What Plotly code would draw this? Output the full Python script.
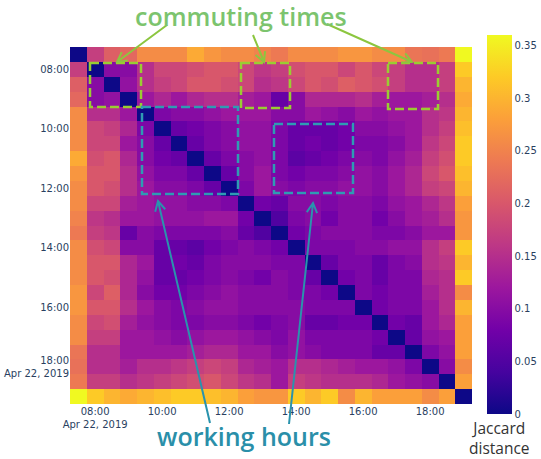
import plotly.graph_objects as go
import math

times = ["2019-04-22 07:30", "2019-04-22 08:00", "2019-04-22 08:30", "2019-04-22 09:00",
         "2019-04-22 09:30", "2019-04-22 10:00", "2019-04-22 10:30", "2019-04-22 11:00",
         "2019-04-22 11:30", "2019-04-22 12:00", "2019-04-22 12:30", "2019-04-22 13:00",
         "2019-04-22 13:30", "2019-04-22 14:00", "2019-04-22 14:30", "2019-04-22 15:00",
         "2019-04-22 15:30", "2019-04-22 16:00", "2019-04-22 16:30", "2019-04-22 17:00",
         "2019-04-22 17:30", "2019-04-22 18:00", "2019-04-22 18:30", "2019-04-22 19:00"]

# upper triangle of the (symmetric) Jaccard distance matrix: row i -> columns i+1..23
upper = [
    [0.17, 0.21, 0.22, 0.26, 0.26, 0.26, 0.29, 0.27, 0.26, 0.26, 0.25, 0.24, 0.26, 0.26, 0.26, 0.27, 0.27, 0.26, 0.26, 0.235, 0.23, 0.24, 0.36],
    [0.10, 0.10, 0.15, 0.18, 0.18, 0.19, 0.20, 0.20, 0.18, 0.16, 0.17, 0.19, 0.20, 0.20, 0.18, 0.20, 0.18, 0.17, 0.15, 0.15, 0.17, 0.32],
    [0.11, 0.15, 0.17, 0.18, 0.20, 0.20, 0.19, 0.18, 0.15, 0.16, 0.18, 0.20, 0.19, 0.21, 0.20, 0.19, 0.17, 0.15, 0.15, 0.17, 0.30],
    [0.12, 0.14, 0.12, 0.14, 0.15, 0.15, 0.13, 0.12, 0.07, 0.10, 0.14, 0.14, 0.14, 0.15, 0.13, 0.12, 0.12, 0.13, 0.15, 0.29],
    [0.09, 0.10, 0.10, 0.11, 0.12, 0.12, 0.12, 0.10, 0.10, 0.12, 0.11, 0.10, 0.12, 0.11, 0.12, 0.12, 0.15, 0.16, 0.30],
    [0.07, 0.08, 0.09, 0.10, 0.11, 0.11, 0.09, 0.07, 0.07, 0.07, 0.08, 0.10, 0.10, 0.11, 0.12, 0.15, 0.17, 0.31],
    [0.07, 0.09, 0.10, 0.11, 0.11, 0.09, 0.07, 0.08, 0.07, 0.08, 0.09, 0.09, 0.10, 0.12, 0.16, 0.18, 0.32],
    [0.07, 0.09, 0.10, 0.11, 0.09, 0.06, 0.07, 0.08, 0.09, 0.10, 0.09, 0.11, 0.13, 0.17, 0.19, 0.32],
    [0.07, 0.10, 0.12, 0.09, 0.08, 0.09, 0.09, 0.10, 0.11, 0.10, 0.12, 0.14, 0.18, 0.20, 0.31],
    [0.09, 0.12, 0.10, 0.09, 0.10, 0.10, 0.11, 0.11, 0.10, 0.12, 0.14, 0.17, 0.18, 0.30],
    [0.08, 0.07, 0.10, 0.10, 0.09, 0.10, 0.10, 0.09, 0.11, 0.12, 0.14, 0.16, 0.28],
    [0.05, 0.09, 0.10, 0.08, 0.10, 0.10, 0.08, 0.10, 0.12, 0.13, 0.15, 0.27],
    [0.08, 0.09, 0.10, 0.10, 0.10, 0.09, 0.09, 0.10, 0.12, 0.12, 0.27],
    [0.09, 0.09, 0.09, 0.10, 0.10, 0.11, 0.11, 0.15, 0.17, 0.32],
    [0.07, 0.09, 0.09, 0.07, 0.09, 0.10, 0.15, 0.16, 0.30],
    [0.08, 0.09, 0.07, 0.09, 0.09, 0.14, 0.15, 0.32],
    [0.09, 0.08, 0.09, 0.09, 0.13, 0.15, 0.26],
    [0.08, 0.09, 0.09, 0.12, 0.15, 0.30],
    [0.08, 0.07, 0.12, 0.14, 0.28],
    [0.07, 0.11, 0.12, 0.28],
    [0.09, 0.11, 0.28],
    [0.10, 0.26],
    [0.28],
]

cbar_ticks = [0, 0.05, 0.1, 0.15, 0.2, 0.25, 0.3, 0.35]

n = len(times)
z = [[0.0] * n for _ in range(n)]
for i, row in enumerate(upper):
    for k, v in enumerate(row):
        j = i + 1 + k
        z[i][j] = v
        z[j][i] = v

W, H = 541, 459
SL, SR, ST, SB = 70, 472, 47, 404  # plot area in pixels
L, T, R, B = SL, ST, W - SR, H - SB


def px(xp):
    return (xp - SL) / (SR - SL)


def py(yp):
    return (SB - yp) / (SB - ST)


fig = go.Figure(go.Heatmap(
    x=times, y=times, z=z, colorscale="Plasma", zmin=0, zmax=0.36,
    colorbar=dict(
        thickness=25, lenmode="pixels", len=379, y=py(35), yanchor="top",
        x=px(487), xanchor="left", xpad=0, ypad=0, outlinewidth=0,
        tickvals=cbar_ticks, tickfont=dict(size=10, family="DejaVu Sans", color="#2a3f5f"),
    ),
))

shapes = []
green_box = "#9acd32"
teal_box = "#2f9bb3"
for (x0, y0, x1, y1) in [(90, 63, 141, 107), (241, 63, 290, 108), (388, 63, 438, 109)]:
    shapes.append(dict(type="rect", xref="paper", yref="paper", x0=px(x0), x1=px(x1), y0=py(y0), y1=py(y1),
                       line=dict(color=green_box, width=2.5, dash="9px,4px")))
for (x0, y0, x1, y1) in [(142, 107, 238, 194), (274, 124, 353, 193)]:
    shapes.append(dict(type="rect", xref="paper", yref="paper", x0=px(x0), x1=px(x1), y0=py(y0), y1=py(y1),
                       line=dict(color=teal_box, width=2.5, dash="9px,4px")))


def arrow(tail, head, color):
    tx, ty = tail
    hx, hy = head
    ang = math.atan2(ty - hy, tx - hx)
    arm = 11
    spread = math.radians(28)
    p1 = (hx + arm * math.cos(ang + spread), hy + arm * math.sin(ang + spread))
    p2 = (hx + arm * math.cos(ang - spread), hy + arm * math.sin(ang - spread))
    path = (f"M {px(tx)},{py(ty)} L {px(hx)},{py(hy)} "
            f"M {px(p1[0])},{py(p1[1])} L {px(hx)},{py(hy)} L {px(p2[0])},{py(p2[1])}")
    return dict(type="path", xref="paper", yref="paper", path=path, line=dict(color=color, width=2))


green_arrow = "#8cc63f"
teal_arrow = "#2a93ad"
for tail, head in [((167, 25), (117, 62)), ((253, 35), (264, 62)), ((327, 24), (412, 62))]:
    shapes.append(arrow(tail, head, green_arrow))
for tail, head in [((210, 423), (158, 201)), ((289, 424), (313, 203))]:
    shapes.append(arrow(tail, head, teal_arrow))

annotations = [
    dict(text="commuting times", xref="paper", yref="paper", x=px(241), y=py(16), showarrow=False,
         xanchor="center", yanchor="middle",
         font=dict(size=25, family="Open Sans", color="#7cc46e", weight=600)),
    dict(text="working hours", xref="paper", yref="paper", x=px(244), y=py(436), showarrow=False,
         xanchor="center", yanchor="middle",
         font=dict(size=25, family="Open Sans", color="#2a8fa9", weight=600)),
    dict(text="Jaccard<br>distance", xref="paper", yref="paper", x=px(499), y=py(415), showarrow=False,
         xanchor="center", yanchor="top",
         font=dict(size=15.5, family="Open Sans", color="#333333")),
]

tickfont = dict(size=10, family="DejaVu Sans", color="#2a3f5f")
fig.update_layout(
    width=W, height=H, margin=dict(l=L, r=R, t=T, b=B, autoexpand=False),
    paper_bgcolor="white", plot_bgcolor="white",
    shapes=shapes, annotations=annotations,
    xaxis=dict(type="date", dtick=7200000, tickfont=tickfont, showgrid=False, zeroline=False, ticks=""),
    yaxis=dict(type="date", dtick=7200000, tickfont=tickfont, showgrid=False, zeroline=False, ticks="",
               autorange="reversed"),
)

# remove the default 8px page margin so the figure sits at the window's corner
fig.write_html("out.html", config={"displayModeBar": False},
               post_script="document.body.style.margin='0px';")
